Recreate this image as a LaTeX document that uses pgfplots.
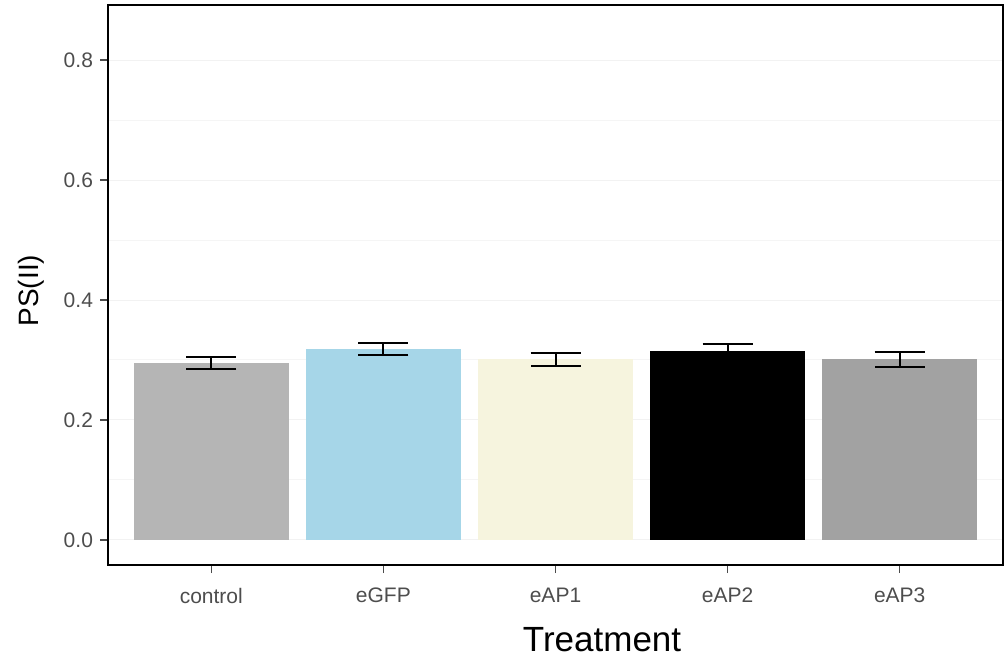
\documentclass[border=0pt]{standalone}
\usepackage{pgfplots}
\pgfplotsset{compat=1.18}
\usepackage{fontspec}
\setmainfont{Liberation Sans}
\definecolor{c1}{RGB}{181,181,181}
\definecolor{c2}{RGB}{166,214,232}
\definecolor{c3}{RGB}{246,244,222}
\definecolor{c4}{RGB}{0,0,0}
\definecolor{c5}{RGB}{162,162,162}
\definecolor{tickc}{RGB}{77,77,77}
\pgfplotsset{
  barstyle/.style={ybar, bar width=0.9, bar shift=0pt, draw=none,
    error bars/.cd, y dir=both, y explicit, error mark=|,
    error bar style={line width=1pt, draw=black},
    error mark options={line width=1pt, mark size=12.5pt, draw=black},
    /pgfplots/.cd}
}
\begin{document}
\begin{tikzpicture}
\begin{axis}[name=ax, scale only axis, width=447.5pt, height=280pt,
  xmin=0.4, xmax=5.6, ymin=-0.0417, ymax=0.8917,
  xtick={1,2,3,4,5}, xticklabels={control,eGFP,eAP1,eAP2,eAP3},
  ytick={0,0.2,0.4,0.6,0.8},
  minor ytick={0.1,0.3,0.5,0.7},
  ymajorgrids, yminorgrids,
  major grid style={black!5, line width=0.5pt},
  minor grid style={black!4, line width=0.5pt},
  minor tick length=0pt,
  /pgf/number format/assume math mode=true,
  yticklabel style={/pgf/number format/.cd, fixed, fixed zerofill, precision=1},
  xticklabel style={yshift=-4pt},
  tick label style={font=\fontsize{10.5}{12}\selectfont, text=tickc},
  tick align=outside, major tick length=4pt,
  tick style={black!70, line width=0.6pt},
  axis line style={line width=1pt, black},
  xtick pos=bottom, ytick pos=left,
  xlabel={Treatment}, ylabel={PS(II)},
  xlabel style={at={(axis description cs:0.552,0)}, anchor=base, yshift=-43pt, font=\fontsize{17.5}{20}\selectfont},
  ylabel style={at={(axis description cs:0,0.49)}, anchor=center, yshift=38.5pt, font=\fontsize{14}{16}\selectfont},
]
\addplot[fill=c1, barstyle] coordinates {(1,0.295) +- (0,0.0105)};
\addplot[fill=c2, barstyle] coordinates {(2,0.318) +- (0,0.010)};
\addplot[fill=c3, barstyle] coordinates {(3,0.301) +- (0,0.0103)};
\addplot[fill=c4, barstyle] coordinates {(4,0.3155) +- (0,0.011)};
\addplot[fill=c5, barstyle] coordinates {(5,0.301) +- (0,0.0123)};
\end{axis}
\pgfresetboundingbox
\path ([shift={(-54pt,-46pt)}]ax.south west) rectangle ([shift={(2pt,2.5pt)}]ax.north east);
\end{tikzpicture}
\end{document}
